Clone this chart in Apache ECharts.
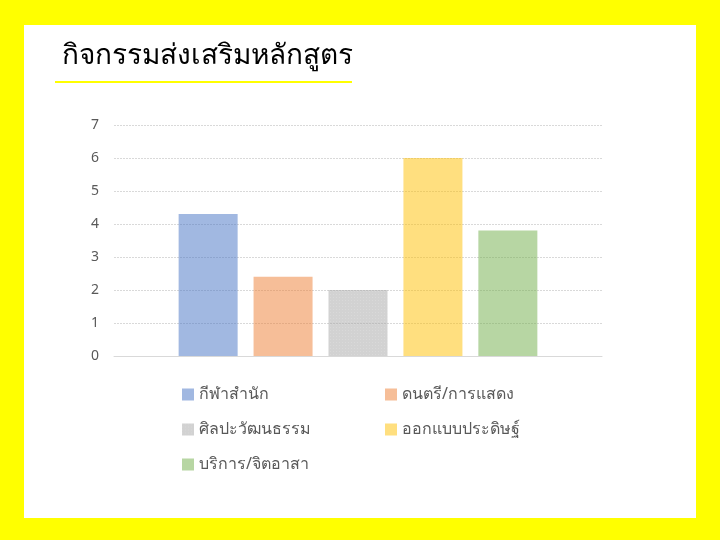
<!DOCTYPE html>
<html><head><meta charset="utf-8">
<script src="https://cdn.jsdelivr.net/npm/echarts@6/dist/echarts.min.js"></script>
<style>html,body{margin:0;padding:0;background:#ffff00;}#c{width:720px;height:540px;}</style>
</head><body><div id="c"></div>
<script>
const titleText = 'กิจกรรมส่งเสริมหลักสูตร';
const seriesNames = ['กีฬาสำนัก', 'ดนตรี/การแสดง', 'ศิลปะวัฒนธรรม', 'ออกแบบประดิษฐ์', 'บริการ/จิตอาสา'];
const seriesValues = [4.3, 2.4, 2.0, 6.0, 3.8];
const seriesColors = ['#4472C4', '#ED7D31', '#A5A5A5', '#FFC000', '#70AD47'];
const yTicks = [0, 7, 1];
const FONT = "'Noto Sans', 'DejaVu Sans', sans-serif";

const chart = echarts.init(document.getElementById('c'), null, {renderer: 'canvas'});
const series = seriesNames.map((n, i) => ({
  name: n, type: 'bar', data: [seriesValues[i]],
  barWidth: 59, barGap: '27%',
  itemStyle: Object.assign({color: seriesColors[i], opacity: 0.5},
    i === 2 ? {decal: {symbol: 'rect', symbolSize: 1, dashArrayX: [[1, 2]], dashArrayY: [1, 2], color: 'rgba(255,255,255,0.35)'}} : {}),
  emphasis: {disabled: true}
}));
chart.setOption({
  animation: false,
  backgroundColor: '#ffff00',
  graphic: [
    {type: 'rect', z: -10, shape: {x: 24, y: 25, width: 672, height: 493}, style: {fill: '#ffffff'}, silent: true},
    {type: 'text', left: 62, top: 42, style: {text: titleText, font: '28px ' + FONT, fill: '#000000'}},
    {type: 'line', shape: {x1: 55, y1: 82, x2: 352, y2: 82}, style: {stroke: '#ffff00', lineWidth: 2}}
  ],
  grid: {left: 114, right: 118, top: 125, bottom: 184, containLabel: false},
  xAxis: {type: 'category', data: [''], axisTick: {show: false}, axisLabel: {show: false},
    axisLine: {lineStyle: {color: '#d9d9d9'}}},
  yAxis: {type: 'value', min: yTicks[0], max: yTicks[1], interval: yTicks[2],
    axisLabel: {color: '#595959', fontSize: 14, fontFamily: FONT, margin: 15},
    axisLine: {show: false}, axisTick: {show: false},
    splitLine: {lineStyle: {color: '#d9d9d9', type: [2, 1]}}},
  legend: {left: 177, top: 377, width: 420, orient: 'horizontal',
    itemWidth: 12, itemHeight: 12, itemGap: 10, icon: 'rect',
    data: seriesNames,
    textStyle: {color: '#595959', fontSize: 16, fontFamily: FONT, width: 176, lineHeight: 25, overflow: 'truncate'}},
  series: series
});
</script></body></html>
